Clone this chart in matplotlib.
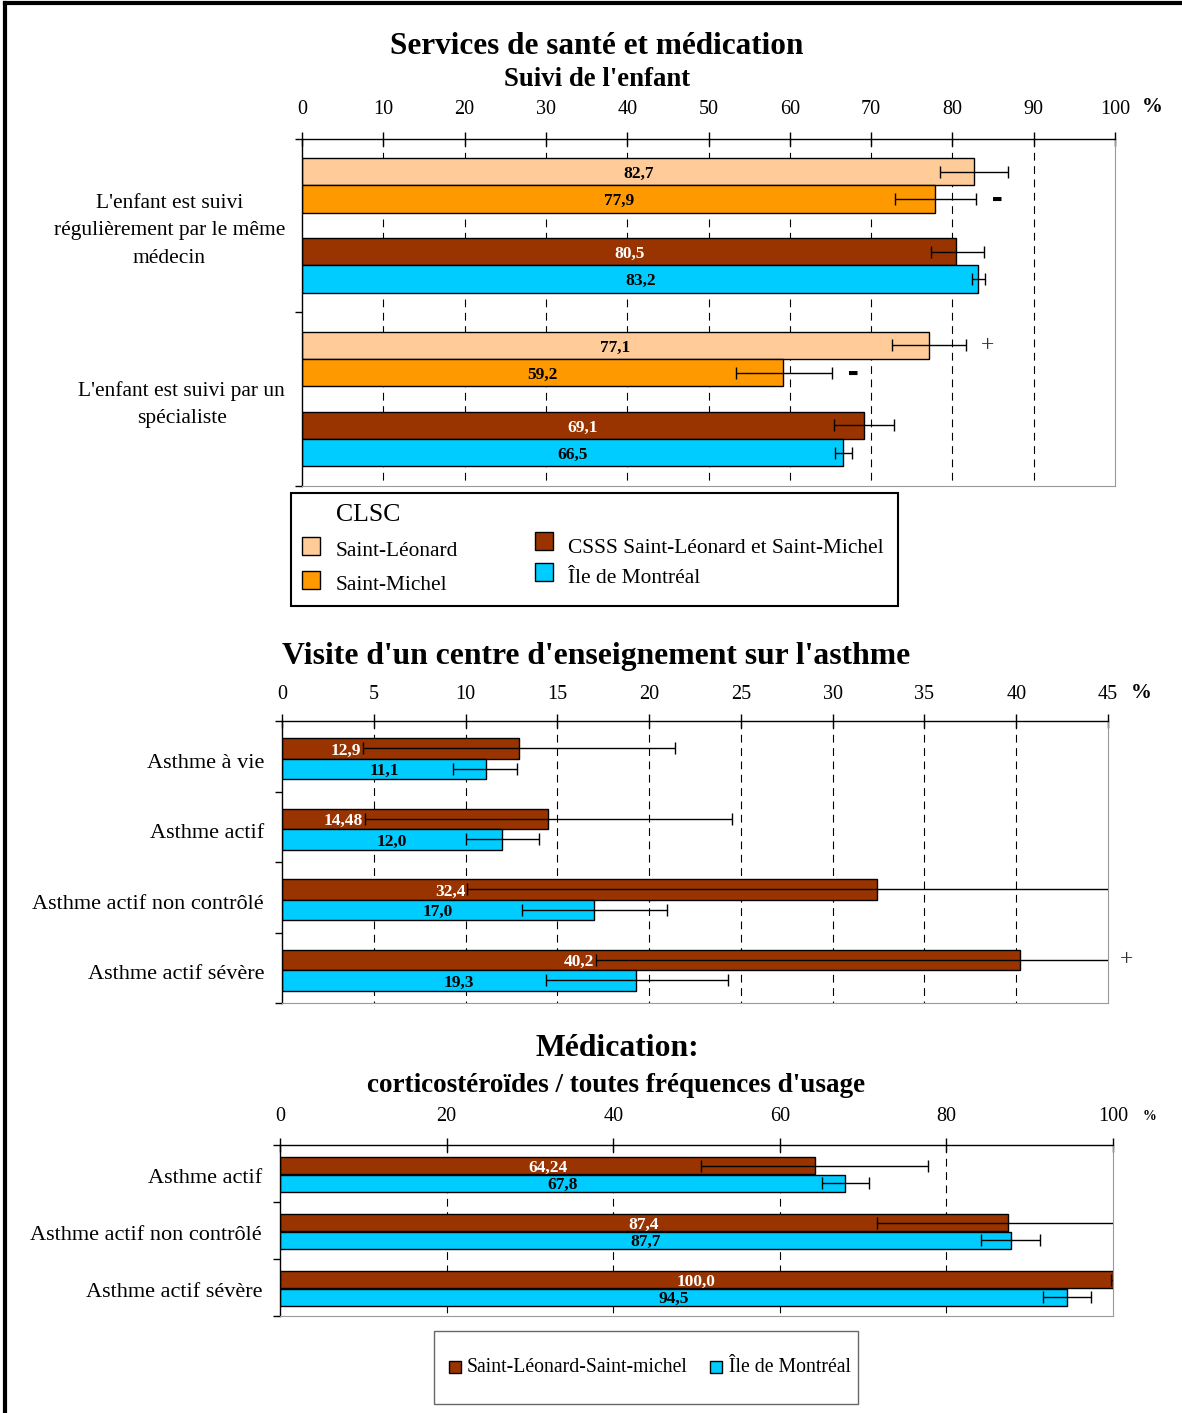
import matplotlib.pyplot as plt
import numpy as np
from matplotlib.patches import Rectangle
from matplotlib.lines import Line2D

W, H = 1182, 1413
plt.rcParams['font.family'] = ['Liberation Serif', 'DejaVu Serif']

# ---------------- DATA ----------------
main_title = "Services de santé et médication"

suivi_title = "Suivi de l'enfant"
suivi_cats = ["L'enfant est suivi\nrégulièrement par le même\nmédecin",
              "L'enfant est suivi par un\nspécialiste"]
suivi_series = ["Saint-Léonard", "Saint-Michel",
                "CSSS Saint-Léonard et Saint-Michel", "Île de Montréal"]
suivi_vals = [[82.7, 77.1], [77.9, 59.2], [80.5, 69.1], [83.2, 66.5]]
suivi_lo = [[78.5, 72.6], [72.9, 53.4], [77.4, 65.4], [82.4, 65.6]]
suivi_hi = [[86.8, 81.7], [82.9, 65.2], [83.9, 72.8], [84.0, 67.6]]
# significance marks: (series index, category index, sign)
suivi_sig = [(1, 0, "-"), (0, 1, "+"), (1, 1, "-")]

asthme_title = "Visite d'un centre d'enseignement sur l'asthme"
asthme_cats = ["Asthme à vie", "Asthme actif",
               "Asthme actif non contrôlé", "Asthme actif sévère"]
asthme_csss = [12.9, 14.48, 32.4, 40.2]
asthme_csss_lo = [4.4, 4.5, 10.1, 17.1]
asthme_csss_hi = [21.4, 24.5, 45.2, 45.2]
asthme_mtl = [11.1, 12.0, 17.0, 19.3]
asthme_mtl_lo = [9.3, 10.0, 13.1, 14.4]
asthme_mtl_hi = [12.8, 14.0, 21.0, 24.3]
asthme_sig = [(0, 3, "+")]

med_title1 = "Médication:"
med_title2 = "corticostéroïdes / toutes fréquences d'usage"
med_cats = ["Asthme actif", "Asthme actif non contrôlé", "Asthme actif sévère"]
med_csss = [64.24, 87.4, 100.0]
med_csss_lo = [50.5, 71.7, 99.8]
med_csss_hi = [77.8, 100.3, 100.3]
med_mtl = [67.8, 87.7, 94.5]
med_mtl_lo = [65.1, 84.1, 91.6]
med_mtl_hi = [70.7, 91.2, 97.3]
med_series = ["Saint-Léonard-Saint-michel", "Île de Montréal"]

legend_title = "CLSC"
# --------------------------------------

C_PEACH = "#FFCC99"
C_ORANGE = "#FF9900"
C_BROWN = "#993300"
C_CYAN = "#00CCFF"

VAL_FS = 12.5


def fx(x):
    return x / W


def fy(y):
    return 1 - y / H


def fmt(v):
    if abs(round(v, 1) - v) > 1e-9:
        return f"{v:.2f}".replace(".", ",")
    return f"{v:.1f}".replace(".", ",")


def make_ax(fig, x0, x1, y0, y1, xmax, step, ncat, pad, labsize=14.5):
    ax = fig.add_axes([fx(x0), fy(y1), (x1 - x0) / W, (y1 - y0) / H])
    ax.set_xlim(0, xmax)
    ax.set_ylim(ncat, 0)
    ax.xaxis.tick_top()
    ticks = np.arange(0, xmax + step / 2, step)
    ax.set_xticks(ticks)
    ax.set_xticklabels([f"{t:g}" for t in ticks])
    ax.tick_params(axis="x", direction="inout", length=10, width=1,
                   pad=pad, labelsize=labsize)
    ax.set_yticks(range(ncat + 1))
    ax.set_yticklabels([])
    ax.tick_params(axis="y", direction="out", length=5, width=1)
    for s in ["right", "bottom"]:
        ax.spines[s].set_color("#999999")
    for s in ["top", "left"]:
        ax.spines[s].set_color("black")
        ax.spines[s].set_linewidth(1)
    ax.vlines(ticks[1:-1], 0, ncat, colors="black", linestyles=(0, (7, 5)),
              lw=0.8, zorder=0)
    return ax


def draw_bars(ax, centers, vals, lo, hi, color, height):
    vals = np.array(vals)
    ax.barh(centers, vals, height=height, color=color, edgecolor="black",
            lw=1, zorder=2)
    xerr = [vals - np.array(lo), np.array(hi) - vals]
    ax.errorbar(vals, centers, xerr=xerr, fmt="none", ecolor="black",
                elinewidth=1, capsize=4, capthick=1, zorder=3)
    return vals


def val_label(ax, x, y, v, color, ha="center"):
    ax.annotate(fmt(v), xy=(x, y), xytext=(0, -2), textcoords="offset pixels",
                ha=ha, va="center", fontsize=VAL_FS, fontweight="bold",
                color=color, zorder=4)


def sig_mark(ax, x, y, sign, dx):
    if sign == "+":
        ax.annotate("+", xy=(x, y), xytext=(dx, 0), textcoords="offset pixels",
                    ha="center", va="center", fontsize=17, color="#333333",
                    annotation_clip=False)
    else:
        ax.annotate("▬", xy=(x, y), xytext=(dx, 0), textcoords="offset pixels",
                    ha="center", va="center", fontsize=8, color="black",
                    family="DejaVu Sans", annotation_clip=False)


def cat_labels(ax, cats, yoff, dx, fs=16, ls=1.2):
    for i, c in enumerate(cats):
        ax.annotate(c, xy=(0, i + yoff), xycoords=("axes fraction", "data"),
                    xytext=(dx, 0), textcoords="offset pixels", ha="right",
                    va="center", multialignment="center", fontsize=fs,
                    linespacing=ls, annotation_clip=False)


fig = plt.figure(figsize=(W / 100, H / 100), dpi=100)

# frame
fig.add_artist(Line2D([fx(5), fx(5)], [0, fy(3)], color="black", lw=3))
fig.add_artist(Line2D([fx(5), 1], [fy(3), fy(3)], color="black", lw=3))

# titles
fig.text(fx(597), fy(46), main_title, ha="center", va="center",
         fontsize=22.5, fontweight="bold")
fig.text(fx(597), fy(80), suivi_title, ha="center", va="center",
         fontsize=19.3, fontweight="bold")
fig.text(fx(596), fy(656), asthme_title, ha="center", va="center",
         fontsize=22.8, fontweight="bold")
fig.text(fx(617), fy(1049), med_title1, ha="center", va="center",
         fontsize=22.8, fontweight="bold")
fig.text(fx(616), fy(1086), med_title2, ha="center", va="center",
         fontsize=19.5, fontweight="bold")

# ---------- chart 1 : suivi ----------
ax1 = make_ax(fig, 302, 1115, 139, 486, 100, 10, len(suivi_cats), pad=9.5)
offsets = [0.19, 0.346, 0.651, 0.807]
colors1 = [C_PEACH, C_ORANGE, C_BROWN, C_CYAN]
txt1 = ["black", "black", "white", "black"]
cidx = np.arange(len(suivi_cats))
for k in range(len(suivi_series)):
    centers = cidx + offsets[k]
    vals = draw_bars(ax1, centers, suivi_vals[k], suivi_lo[k], suivi_hi[k],
                     colors1[k], 0.156)
    for y, v in zip(centers, vals):
        val_label(ax1, v / 2, y, v, txt1[k])
for s, c, sign in suivi_sig:
    sig_mark(ax1, suivi_hi[s][c], c + offsets[s], sign, 21)
cat_labels(ax1, suivi_cats, 0.53, -17, fs=15.5, ls=1.6)
fig.text(fx(1152), fy(107), "%", ha="center", va="center", fontsize=15,
         fontweight="bold")

# legend 1
fig.add_artist(Rectangle((fx(291), fy(606)), (898 - 291) / W, (606 - 493) / H,
                         transform=fig.transFigure, fill=False, lw=1.5,
                         edgecolor="black"))
fig.text(fx(336), fy(515), legend_title, ha="left", va="center", fontsize=18.5)
leg_items = [(302, 546, 336, 552), (302, 580, 336, 586),
             (535, 541, 568, 548), (535, 572, 568, 578)]
for k, (sx, sy, tx, ty) in enumerate(leg_items):
    fig.add_artist(Rectangle((fx(sx), fy(sy + 9)), 18 / W, 18 / H,
                             transform=fig.transFigure, facecolor=colors1[k],
                             edgecolor="black", lw=1))
    fig.text(fx(tx), fy(ty), suivi_series[k], ha="left", va="center",
             fontsize=15.4)

# ---------- chart 2 : asthme ----------
ax2 = make_ax(fig, 282, 1108, 721, 1003, 45, 5, len(asthme_cats), pad=7)
cidx = np.arange(len(asthme_cats))
yb = cidx + 0.39
ym = cidx + 0.68
draw_bars(ax2, yb, asthme_csss, asthme_csss_lo, asthme_csss_hi, C_BROWN, 0.29)
draw_bars(ax2, ym, asthme_mtl, asthme_mtl_lo, asthme_mtl_hi, C_CYAN, 0.29)
for y, v, lo in zip(yb, asthme_csss, asthme_csss_lo):
    val_label(ax2, lo - 0.1, y, v, "white", ha="right")
for y, v in zip(ym, asthme_mtl):
    val_label(ax2, v / 2, y, v, "black")
for s, c, sign in asthme_sig:
    sig_mark(ax2, asthme_csss_hi[c], yb[c], sign, 15)
cat_labels(ax2, asthme_cats, 0.6, -18, fs=16)
fig.text(fx(1141), fy(693), "%", ha="center", va="center", fontsize=15,
         fontweight="bold")

# ---------- chart 3 : medication ----------
ax3 = make_ax(fig, 280, 1113, 1145, 1316, 100, 20, len(med_cats), pad=8.5)
cidx = np.arange(len(med_cats))
yb = cidx + 0.368
ym = cidx + 0.667
draw_bars(ax3, yb, med_csss, med_csss_lo, med_csss_hi, C_BROWN, 0.298)
draw_bars(ax3, ym, med_mtl, med_mtl_lo, med_mtl_hi, C_CYAN, 0.298)
for y, v in zip(yb, med_csss):
    val_label(ax3, v / 2, y, v, "white")
for y, v in zip(ym, med_mtl):
    val_label(ax3, v / 2, y, v, "black")
cat_labels(ax3, med_cats, 0.59, -18, fs=16)
fig.text(fx(1149), fy(1117), "%", ha="center", va="center", fontsize=10,
         fontweight="bold")

# legend 2
fig.add_artist(Rectangle((fx(434), fy(1404)), (858 - 434) / W, (1404 - 1331) / H,
                         transform=fig.transFigure, fill=False, lw=1,
                         edgecolor="#666666"))
for (sx, tx), col, lab in zip([(449, 467), (710, 729)], [C_BROWN, C_CYAN],
                              med_series):
    fig.add_artist(Rectangle((fx(sx), fy(1373)), 12 / W, 12 / H,
                             transform=fig.transFigure, facecolor=col,
                             edgecolor="black", lw=1))
    fig.text(fx(tx), fy(1368), lab, ha="left", va="center", fontsize=14.2)

plt.savefig("out.png", dpi=100)
